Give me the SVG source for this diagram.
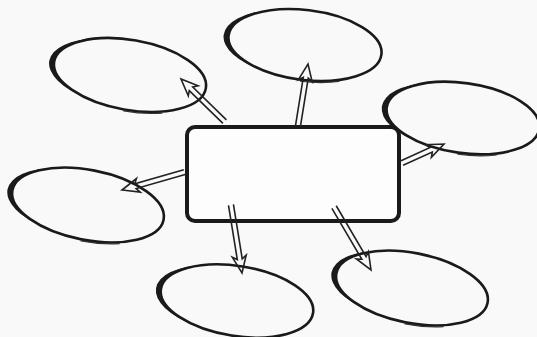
<svg xmlns="http://www.w3.org/2000/svg" width="537" height="337" viewBox="0 0 537 337">
<style>
.bg{fill:#f9f9f9}
.ell{fill:none;stroke:#1a1a1a;stroke-width:2.6}
.thick{fill:#1a1a1a;stroke:none}
.tail{fill:none;stroke:#333;stroke-width:1.2;stroke-linecap:round}
.box{fill:#fdfdfd;stroke:#1a1a1a;stroke-width:4}
.arr{fill:none;stroke:#222;stroke-width:1.6;stroke-linejoin:miter}
</style>
<defs>
<g id="bubble">
<ellipse class="ell" cx="0" cy="0" rx="77" ry="35"/>
<path class="thick" d="M -38.5,30.3 A 77 35 0 0 1 -38.5,-30.3 A 72 33 0 0 0 -38.5,30.3 Z"/>
<path class="tail" d="M 0,36.5 A 78 36.5 0 0 0 38,32"/>
</g>
</defs>
<rect class="bg" x="0" y="0" width="537" height="337"/>
<g id="node-top-left"><use href="#bubble" transform="translate(130,75) rotate(10)"/></g>
<g id="node-top"><use href="#bubble" transform="translate(305,45) rotate(7)"/></g>
<g id="node-right"><use href="#bubble" transform="translate(463,118) rotate(8)"/></g>
<g id="node-left"><use href="#bubble" transform="translate(88,205) rotate(11)"/></g>
<g id="node-bottom"><use href="#bubble" transform="translate(237,301) rotate(9)"/></g>
<g id="node-bottom-right"><use href="#bubble" transform="translate(412,288) rotate(11)"/></g>
<g id="node-center"><rect class="box" x="187" y="127" width="212" height="94" rx="8"/></g>
<g id="connectors">
<path class="arr" transform="translate(181,79) rotate(224.3)" d="M -61,-2.5 L -14,-2.5 L -17,-7 L 0,0 L -17,7 L -14,2.5 L -61,2.5"/>
<path class="arr" transform="translate(308,64) rotate(-80.8)" d="M -63,-2.5 L -14,-2.5 L -17,-7 L 0,0 L -17,7 L -14,2.5 L -63,2.5"/>
<path class="arr" transform="translate(444,144) rotate(-24.3)" d="M -46,-2.5 L -14,-2.5 L -17,-7 L 0,0 L -17,7 L -14,2.5 L -46,2.5"/>
<path class="arr" transform="translate(122,190) rotate(164)" d="M -65,-2.5 L -14,-2.5 L -17,-7 L 0,0 L -17,7 L -14,2.5 L -65,2.5"/>
<path class="arr" transform="translate(242,273) rotate(80.8)" d="M -69,-2.5 L -14,-2.5 L -17,-7 L 0,0 L -17,7 L -14,2.5 L -69,2.5"/>
<path class="arr" transform="translate(371,270) rotate(59.6)" d="M -73,-2.5 L -14,-2.5 L -17,-7 L 0,0 L -17,7 L -14,2.5 L -73,2.5"/>
</g>
</svg>
